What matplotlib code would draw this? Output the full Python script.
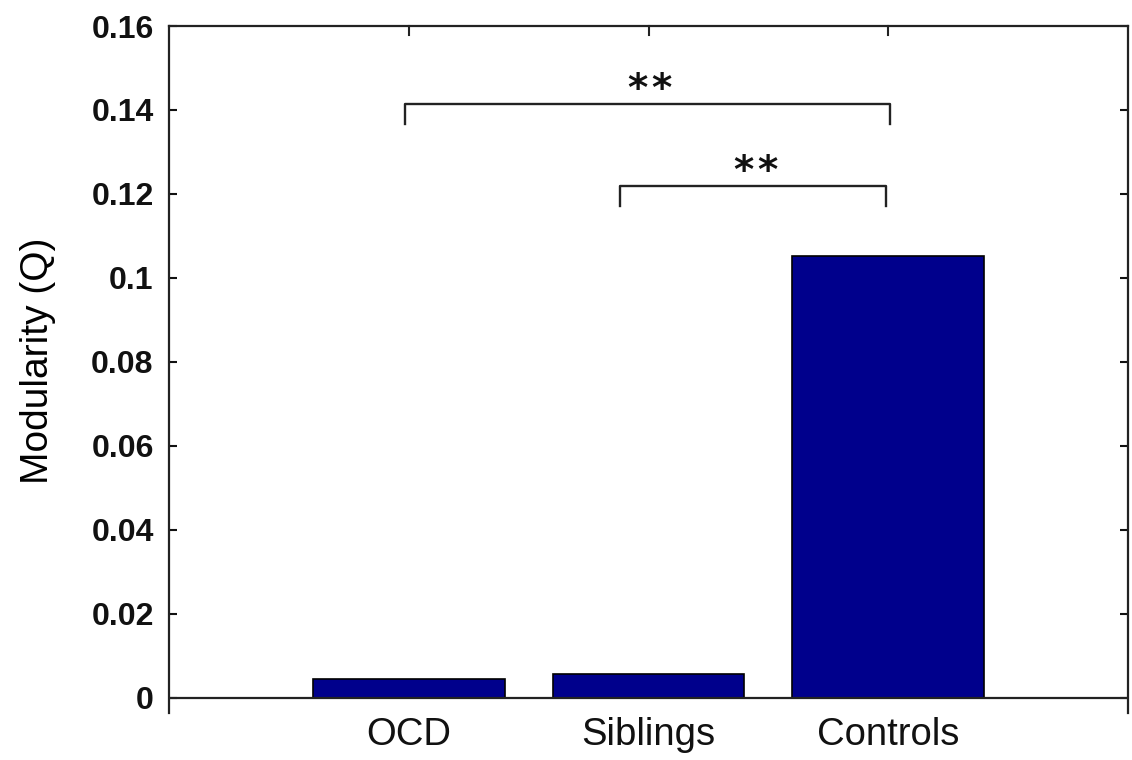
import matplotlib
matplotlib.use("Agg")
import matplotlib.pyplot as plt

categories = ["OCD", "Siblings", "Controls"]
modularity = [0.0046, 0.0058, 0.1053]
yticks = [0, 0.02, 0.04, 0.06, 0.08, 0.1, 0.12, 0.14, 0.16]
ytick_labels = ["0", "0.02", "0.04", "0.06", "0.08", "0.1", "0.12", "0.14", "0.16"]
# significance brackets: (x_left, x_right, y_top, label)
brackets = [(0.983, 3.008, 0.1415, "**"), (1.88, 2.99, 0.1220, "**")]
bracket_drop = 0.0049

plt.rcParams['font.family'] = ['Liberation Sans', 'DejaVu Sans']

fig = plt.figure(figsize=(11.32, 7.6), dpi=100)
ax = fig.add_axes([169/1132, 1-713/760, (1128-169)/1132, (713-26)/760])

x = list(range(1, len(categories)+1))
ax.bar(x, modularity, width=0.8, color="#00008C", edgecolor="black", linewidth=1.2, zorder=2)
ax.axhline(0, color="#222222", linewidth=1.6, zorder=3)

ax.set_xlim(0, 4)
ax.set_ylim(-0.0036, 0.16)
ax.set_yticks(yticks)
ax.set_yticklabels(ytick_labels, fontweight="bold", fontsize=23)
ax.set_xticks(x)
ax.set_xticklabels(categories, fontsize=27.5)

ax.tick_params(axis="y", direction="in", length=6, width=1.5, left=True, right=True, pad=11, colors="#111111")
ax.tick_params(axis="x", direction="in", length=0, pad=3, top=False, bottom=False, colors="#111111")
for xi in x:
    ax.plot([xi, xi], [0.16, 0.16 - 0.0022], color="#222222", linewidth=1.5, clip_on=False)

for side in ["left", "right", "top"]:
    ax.spines[side].set_linewidth(1.6)
    ax.spines[side].set_color("#222222")
ax.spines["bottom"].set_visible(False)

ax.set_ylabel("Modularity (Q)", fontsize=28)
ax.yaxis.set_label_coords(-0.118, 0.513)

star_gap = 0.1  # spacing between stars, in x data units
for xl, xr, yt, lab in brackets:
    ax.plot([xl, xl, xr, xr], [yt - bracket_drop, yt, yt, yt - bracket_drop], color="#222222", linewidth=1.7)
    xc = (xl + xr) / 2 + 0.01
    n = len(lab)
    for k, ch in enumerate(lab):
        ax.text(xc + (k - (n - 1) / 2) * star_gap, yt + 0.0006, ch, ha="center", va="baseline",
                fontsize=28, family="DejaVu Sans", fontweight="bold", color="#111111")

fig.savefig("out.png", dpi=100)
